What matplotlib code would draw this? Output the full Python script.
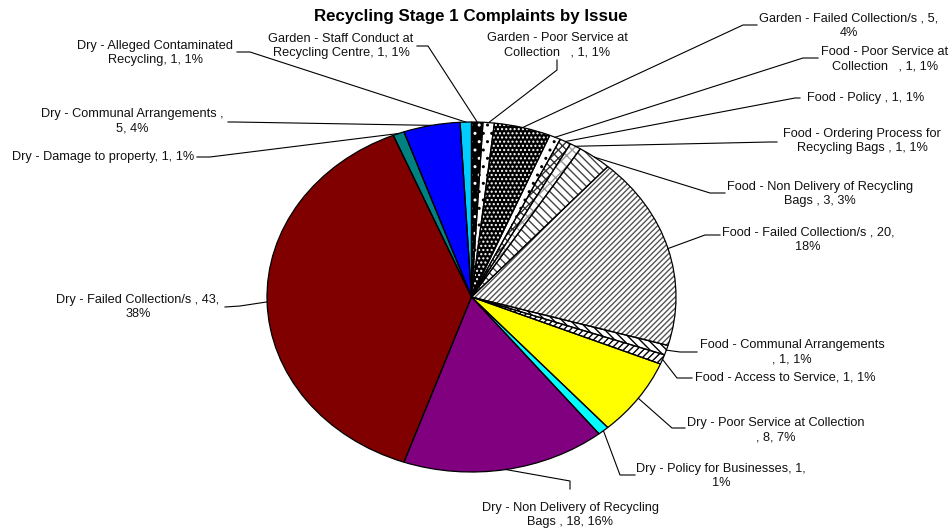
import matplotlib.pyplot as plt
import numpy as np

plt.rcParams['font.family'] = ['Liberation Sans', 'DejaVu Sans']
plt.rcParams['hatch.linewidth'] = 1.0

W, H = 951, 531

values = [1, 1, 5, 1, 1, 1, 3, 20, 1, 1, 8, 1, 18, 43, 1, 5, 1]

label_fmt = [
    "Garden - Staff Conduct at\nRecycling Centre, {v}, {p}%",
    "Garden - Poor Service at\nCollection   , {v}, {p}%",
    "Garden - Failed Collection/s , {v},\n{p}%",
    "Food - Poor Service at\nCollection   , {v}, {p}%",
    "Food - Policy , {v}, {p}%",
    "Food - Ordering Process for\nRecycling Bags , {v}, {p}%",
    "Food - Non Delivery of Recycling\nBags , {v}, {p}%",
    "Food - Failed Collection/s , {v},\n{p}%",
    "Food - Communal Arrangements\n, {v}, {p}%",
    "Food - Access to Service, {v}, {p}%",
    "Dry - Poor Service at Collection\n, {v}, {p}%",
    "Dry - Policy for Businesses, {v},\n{p}%",
    "Dry - Non Delivery of Recycling\nBags , {v}, {p}%",
    "Dry - Failed Collection/s , {v},\n{p}%",
    "Dry - Damage to property, {v}, {p}%",
    "Dry - Communal Arrangements ,\n{v}, {p}%",
    "Dry - Alleged Contaminated\nRecycling, {v}, {p}%",
]

# fill colour, hatch pattern, hatch colour
styles = [
    ('black', '..', 'white'),
    ('white', '..', 'black'),
    ('black', '....', 'white'),
    ('white', '..', 'black'),
    ('white', 'xxxx', '#333333'),
    ('white', 'xxx', '#999999'),
    ('white', '\\\\\\\\', '#444444'),
    ('white', '//////', '#555555'),
    ('white', '\\\\\\\\', 'black'),
    ('white', '/////', 'black'),
    ('#FFFF00', '', 'black'),
    ('#00FFFF', '', 'black'),
    ('#800080', '', 'black'),
    ('#800000', '', 'black'),
    ('#008080', '', 'black'),
    ('#0000FF', '', 'black'),
    ('#00CCFF', '', 'black'),
]

# label centre (px), text-side end of leader, elbow of leader
label_pos = [
    ((341, 46), (417, 46), (428, 46)),
    ((557, 45), (557, 60), (557, 70)),
    ((849, 26), (757, 25), (743, 25)),
    ((885, 59), (818, 58), (803, 58)),
    ((866, 98), (800, 98), (795, 98)),
    ((862, 141), (777, 142), (770, 142)),
    ((820, 194), (725, 193), (710, 193)),
    ((808, 240), (720, 235), (705, 235)),
    ((792, 352), (697, 352), (680, 352)),
    ((785, 378), (692, 378), (677, 378)),
    ((776, 430), (685, 428), (672, 428)),
    ((721, 476), (635, 475), (620, 475)),
    ((570, 515), (570, 489), (570, 481)),
    ((138, 307), (225, 307), (240, 306)),
    ((103, 157), (197, 157), (210, 157)),
    ((132, 121), (228, 122), (235, 122)),
    ((155, 53), (237, 52), (250, 52)),
]

total = sum(values)

fig = plt.figure(figsize=(W / 100, H / 100), dpi=100)
ax = fig.add_axes([267 / W, (H - 472) / H, 409 / W, 350 / H])

wedges, _ = ax.pie(values, startangle=90, counterclock=False,
                   wedgeprops=dict(linewidth=0))
for w, (fc, hatch, hc) in zip(wedges, styles):
    w.set_facecolor(fc)
    w.set_edgecolor(hc)
    w.set_hatch(hatch)
    w.set_linewidth(0)

# black outlines drawn over the hatched fills
outlines, _ = ax.pie(values, startangle=90, counterclock=False,
                     wedgeprops=dict(fill=False, edgecolor='black', linewidth=0.9))
ax.set_aspect('auto')
ax.set_xlim(-1, 1)
ax.set_ylim(-1, 1)


def px(x, y):
    return x / W, 1 - y / H


to_fig = ax.transData + fig.transFigure.inverted()
for w, v, fmt, (tpos, tend, elbow) in zip(wedges, values, label_fmt, label_pos):
    p = round(v / total * 100)
    fig.text(*px(*tpos), fmt.format(v=v, p=p), ha='center', va='center',
             multialignment='center', fontsize=9.2, color='#111111',
             linespacing=1.3)
    mid = np.deg2rad((w.theta1 + w.theta2) / 2)
    ex, ey = to_fig.transform((np.cos(mid), np.sin(mid)))
    pts = [px(*tend), px(*elbow), (ex, ey)]
    fig.add_artist(plt.Line2D([q[0] for q in pts], [q[1] for q in pts],
                              color='black', linewidth=0.8))

fig.text(*px(471, 16), 'Recycling Stage 1 Complaints by Issue', ha='center',
         va='center', fontsize=12.2, fontweight='bold')

fig.savefig('out.png', dpi=100)
